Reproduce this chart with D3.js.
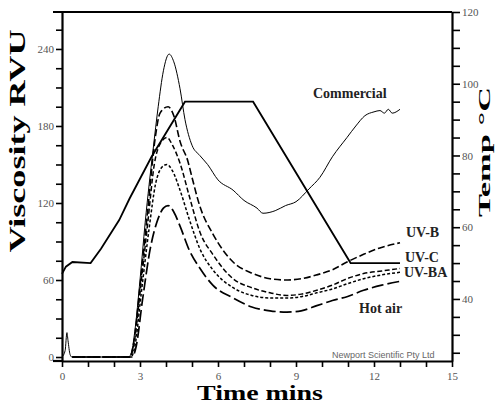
<!DOCTYPE html>
<html>
<head>
<meta charset="utf-8">
<script src="https://cdnjs.cloudflare.com/ajax/libs/d3/7.8.5/d3.min.js"></script>
<style>
  body { margin: 0; background: #fff; }
  svg { display: block; }
  .tick text { font-family: "Liberation Serif", serif; font-size: 11px; fill: #555; }
</style>
</head>
<body>
<svg id="chart"></svg>
<script>
// time (min), viscosity (RVU)
const commercial = [[0,0],[0.12,5],[0.19,19],[0.23,13],[0.31,2],[0.38,0],[1.5,0],[2.55,0],[2.65,2],
  [2.8,20],[3.0,60],[3.2,105],[3.5,161],[3.7,195],[3.9,223],[4.12,236],[4.3,230],[4.54,209],[4.73,185],
  [5.0,165],[5.3,157],[5.6,150],[6.0,138],[6.58,130],[7.0,122],[7.5,116],[7.73,112],[8.2,114],[8.6,118],
  [9.0,121],[9.5,131],[9.92,140],[10.4,156],[10.96,171],[11.3,180],[11.65,188],[12.0,191],[12.23,192],
  [12.4,190],[12.55,193],[12.7,190],[13.0,193]];
const uvB = [[0.4,0],[2.6,0],[2.75,10],[3.0,55],[3.3,115],[3.58,170],[3.77,190],[4.08,195],[4.3,188],
  [4.54,168],[4.85,152],[5.0,140],[5.31,117],[5.8,96],[6.58,74],[7.35,65],[8.0,61],[8.58,60],[9.2,61],
  [9.8,64],[10.4,68],[10.96,74],[11.6,80],[12.23,85],[13.0,89]];
const uvC = [[0.4,0],[2.6,0],[2.75,8],[3.0,50],[3.3,105],[3.55,150],[3.8,167],[4.04,171],[4.25,165],
  [4.54,151],[4.9,125],[5.31,97],[5.8,80],[6.58,61],[7.3,54],[8.0,50],[8.65,48],[9.2,49],[9.8,52],
  [10.4,56],[10.96,61],[11.6,65],[12.3,67],[13.0,69]];
const uvBA = [[0.4,0],[2.65,0],[2.8,8],[3.05,50],[3.35,100],[3.6,135],[3.85,148],[4.04,150],[4.25,145],
  [4.54,130],[4.9,107],[5.31,84],[5.8,68],[6.58,54],[7.3,48],[8.0,46],[8.65,46],[9.2,47],[9.8,50],
  [10.4,53],[10.96,57],[11.6,61],[12.3,64],[13.0,66]];
const hotAir = [[0.4,0],[2.7,0],[2.85,8],[3.1,45],[3.4,85],[3.7,108],[3.9,116],[4.08,118],[4.3,113],
  [4.54,102],[4.9,83],[5.31,69],[5.8,56],[6.58,46],[7.3,39],[8.0,36],[8.65,35],[9.2,36],[9.8,40],
  [10.4,44],[10.96,47],[11.6,52],[12.3,56],[13.0,59]];
// time (min), temperature (°C)
const tempProfile = [[0,47],[0.15,49],[0.4,50.3],[1.1,50],[1.5,54],[2.2,62],[2.6,68],[3.45,79.7],
  [4.73,95],[7.35,95],[11.1,50],[13,50]];

const xTicks = d3.range(0, 16, 1);
const xLabels = [0, 3, 6, 9, 12, 15];
const viscTicks = d3.range(0, 256, 15);
const viscLabels = [0, 60, 120, 180, 240];
const tempTicks = d3.range(25, 121, 5);
const tempLabels = [40, 60, 80, 100, 120];

const width = 495, height = 403;
const plot = { left: 62, right: 452, top: 12, bottom: 361 };

const svg = d3.select('#chart').attr('width', width).attr('height', height);

const x = d3.scaleLinear().domain([0, 15]).range([plot.left, plot.right]);
const yV = d3.scaleLinear().domain([-3.1, 268.8]).range([plot.bottom, plot.top]);
const yT = d3.scaleLinear().domain([22.7, 120]).range([plot.bottom, plot.top]);

function styleAxis(g) {
  g.select('.domain').attr('stroke', '#000').attr('stroke-width', 2.2);
  g.selectAll('.tick line').attr('stroke', '#000').attr('stroke-width', 1.6);
}

svg.append('g')
  .attr('transform', `translate(0,${plot.bottom})`)
  .call(d3.axisBottom(x).tickValues(xTicks).tickSize(6).tickSizeOuter(0)
    .tickFormat(d => xLabels.includes(d) ? d : ''))
  .call(styleAxis)
  .call(g => g.selectAll('.tick text').attr('dy', '0.95em'));

svg.append('g')
  .attr('transform', `translate(${plot.left},0)`)
  .call(d3.axisLeft(yV).tickValues(viscTicks).tickSize(6).tickSizeOuter(0).tickPadding(2)
    .tickFormat(d => viscLabels.includes(d) ? d : ''))
  .call(styleAxis);

svg.append('g')
  .attr('transform', `translate(${plot.right},0)`)
  .call(d3.axisRight(yT).tickValues(tempTicks).tickSize(8).tickSizeOuter(0).tickPadding(2)
    .tickFormat(d => tempLabels.includes(d) ? d : ''))
  .call(styleAxis);

// top frame line and small extension at the bottom-left corner
svg.append('line').attr('x1', 53).attr('x2', plot.right).attr('y1', plot.top).attr('y2', plot.top)
  .attr('stroke', '#000').attr('stroke-width', 2.2);
svg.append('line').attr('x1', 53).attr('x2', plot.left).attr('y1', plot.bottom).attr('y2', plot.bottom)
  .attr('stroke', '#000').attr('stroke-width', 2.2);

const viscLine = d3.line().x(d => x(d[0])).y(d => yV(d[1])).curve(d3.curveMonotoneX);
const tempLine = d3.line().x(d => x(d[0])).y(d => yT(d[1]));

const series = [
  { data: commercial, dash: null, w: 1 },
  { data: uvB, dash: '7,3', w: 1.6 },
  { data: uvC, dash: '5,2.5', w: 1.5 },
  { data: uvBA, dash: '3,2', w: 1.5 },
  { data: hotAir, dash: '12,4', w: 1.7 }
];

svg.append('g').selectAll('path')
  .data(series)
  .enter()
  .append('path')
  .attr('d', d => viscLine(d.data))
  .attr('fill', 'none')
  .attr('stroke', '#000')
  .attr('stroke-width', d => d.w)
  .attr('stroke-dasharray', d => d.dash);

svg.append('path')
  .attr('d', tempLine(tempProfile))
  .attr('fill', 'none')
  .attr('stroke', '#000')
  .attr('stroke-width', 1.8);

// series labels
const labels = [
  { text: 'Commercial', x: 313, y: 98 },
  { text: 'UV-B', x: 406, y: 237 },
  { text: 'UV-C', x: 405, y: 262 },
  { text: 'UV-BA', x: 404, y: 277 },
  { text: 'Hot air', x: 359, y: 313 }
];
svg.append('g').selectAll('text')
  .data(labels)
  .enter()
  .append('text')
  .attr('x', d => d.x)
  .attr('y', d => d.y)
  .attr('font-family', '"Liberation Serif", serif')
  .attr('font-weight', 'bold')
  .attr('font-size', 14)
  .attr('fill', '#222')
  .text(d => d.text);

svg.append('text')
  .attr('x', 332).attr('y', 358)
  .attr('font-family', '"Liberation Sans", Arial, sans-serif')
  .attr('font-size', 9)
  .attr('fill', '#666')
  .text('Newport Scientific Pty Ltd');

// axis titles
svg.append('text')
  .attr('transform', 'translate(25,141) rotate(-90)')
  .attr('text-anchor', 'middle')
  .attr('font-family', '"Liberation Serif", serif')
  .attr('font-weight', 'bold')
  .attr('font-size', 24)
  .attr('textLength', 223)
  .attr('lengthAdjust', 'spacingAndGlyphs')
  .text('Viscosity RVU');

svg.append('text')
  .attr('x', 197).attr('y', 400)
  .attr('font-family', '"Liberation Serif", serif')
  .attr('font-weight', 'bold')
  .attr('font-size', 20)
  .attr('textLength', 126)
  .attr('lengthAdjust', 'spacingAndGlyphs')
  .text('Time mins');

svg.append('text')
  .attr('transform', 'translate(490,152) rotate(-90)')
  .attr('text-anchor', 'middle')
  .attr('font-family', '"Liberation Serif", serif')
  .attr('font-weight', 'bold')
  .attr('font-size', 17)
  .attr('textLength', 130)
  .attr('lengthAdjust', 'spacingAndGlyphs')
  .text('Temp °C');
</script>
</body>
</html>
